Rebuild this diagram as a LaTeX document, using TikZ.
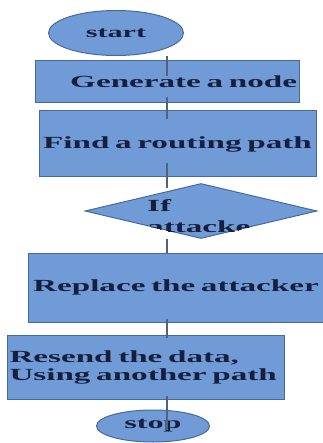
\documentclass[tikz,border=0pt]{standalone}
\usepackage{fontspec}
\setmainfont{Liberation Serif}
\newfontfamily\flowfont[FakeStretch=1.95, WordSpace=2.5]{Liberation Serif}
\usetikzlibrary{positioning,shapes.geometric}
\definecolor{BoxBlue}{RGB}{112,155,215}
\definecolor{EdgeBlue}{RGB}{70,105,160}
\definecolor{LinkGray}{RGB}{80,98,128}
\definecolor{InkNavy}{RGB}{22,32,62}

\begin{document}
\begin{tikzpicture}[x=1pt, y=-1pt,
    flowbox/.style={rectangle, draw=EdgeBlue, fill=BoxBlue, line width=1pt,
                 inner sep=2pt, text=InkNavy,
                 font=\flowfont\bfseries\fontsize{17}{18}\selectfont},
    termbox/.style={ellipse, draw=EdgeBlue, fill=BoxBlue, line width=1pt,
                 inner sep=0pt, text=InkNavy,
                 font=\flowfont\bfseries\fontsize{15.5}{18}\selectfont},
    decision/.style={diamond, draw=EdgeBlue, fill=BoxBlue, line width=1pt,
                 inner sep=0pt},
    link/.style={draw=LinkGray, line width=1.4pt}
]
    \useasboundingbox (0,0) rectangle (322,443);
    % boxes
    \node[termbox, minimum width=135pt, minimum height=45pt] (start) at (116,33) {start};
    \node[flowbox, minimum width=264pt, minimum height=42pt,
          text width=260pt, align=right] (gen) at (167,82) {Generate a node};
    \node[flowbox, minimum width=275pt, minimum height=66pt,
          text width=273pt, align=center] (find) at (177.5,144) {Find a routing path};
    \node[decision, minimum width=232pt, minimum height=55pt] (ask) at (201,211) {};
    \begin{scope}
        \clip (ask.north) -- (ask.east) -- (ask.south) -- (ask.west) -- cycle;
        \node[anchor=north west, inner sep=0pt, align=left, text=InkNavy,
              font=\flowfont\bfseries\fontsize{17}{21}\selectfont] (asktext) at (147,199) {If\\attacke};
    \end{scope}
    \node[flowbox, minimum width=292pt, minimum height=69pt,
          text width=292pt, align=center] (replace) at (176,287.5) {Replace the attacker};
    \node[flowbox, minimum width=277pt, minimum height=64pt,
          text width=272pt, align=left] (resend) at (145.5,367) {Resend the data,\\Using another path};
    \node[termbox, minimum width=113pt, minimum height=32pt,
          font=\flowfont\bfseries\fontsize{16.5}{18}\selectfont] (stop) at (153,426) {stop};
    % connectors
    \draw[link, shorten >=-16pt] (start.south -| gen.center) -- (gen.north);
    \draw[link, shorten <=-6pt, shorten >=-9pt] (gen.south) -- (find.north -| gen.south);
    \draw[link, shorten <=-14pt, shorten >=-5pt] (find.south -| gen.south) -- (ask.north -| gen.south);
    \draw[link] (ask.south -| gen.south) -- (replace.north -| gen.south);
    \draw[link, shorten <=-4pt, shorten >=-3pt] (replace.south -| gen.south) -- (resend.north -| gen.south);
    \draw[link, shorten <=-4pt, shorten >=-20pt] (resend.south -| gen.south) -- (stop.north -| gen.south);
\end{tikzpicture}
\end{document}
